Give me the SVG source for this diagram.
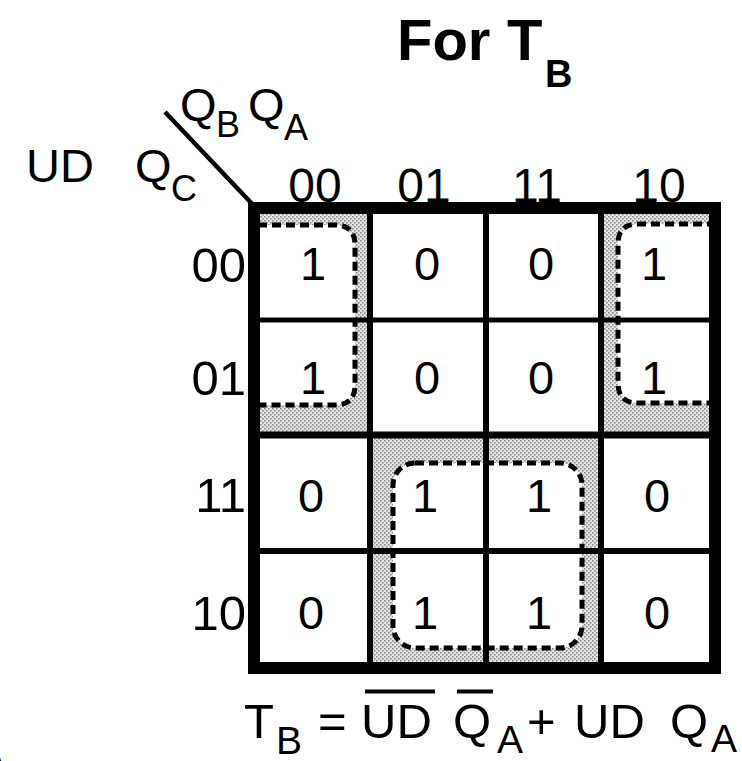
<svg xmlns="http://www.w3.org/2000/svg" width="742" height="761" viewBox="0 0 742 761">
<style>
text{font-family:"Liberation Sans",Arial,sans-serif;fill:#000}
.v{font-size:47px;text-anchor:middle}
.rl{font-size:49px;text-anchor:end}
.cl{font-size:48px;text-anchor:middle}
.eq{font-size:49px}
.sub{font-size:39px}
.hd{font-size:47px}
.hsub{font-size:36px}
.dash{fill:none;stroke:#000;stroke-width:5;stroke-dasharray:9 5}
.inner{fill:#fff}
.shade{fill:url(#stip)}
</style>
<defs>
<pattern id="stip" width="4" height="4" patternUnits="userSpaceOnUse">
<rect width="4" height="4" fill="#e4e4e4"/>
<rect x="0" y="0" width="1.6" height="1.6" fill="#8c8c8c"/>
<rect x="2" y="2" width="1.6" height="1.6" fill="#8c8c8c"/>
</pattern>
</defs>
<rect width="742" height="761" fill="#fff"/>

<g id="title">
<text x="397" y="60" style="font-size:58px;font-weight:bold">For</text>
<text x="507" y="60" style="font-size:58px;font-weight:bold">T</text>
<text x="545" y="87" style="font-size:38px;font-weight:bold">B</text>
</g>

<g id="groups">
<rect class="shade" x="258" y="212" width="112" height="222"/>
<rect class="inner" x="225" y="225" width="130" height="180" rx="20"/>
<path class="dash" d="M258 225 H335 Q355 225 355 245 V385 Q355 405 335 405 H258"/>
<rect class="shade" x="601" y="212" width="115" height="222"/>
<rect class="inner" x="618" y="224" width="130" height="179" rx="20"/>
<path class="dash" d="M716 224 H638 Q618 224 618 244 V383 Q618 403 638 403 H716"/>
<rect class="shade" x="370" y="435" width="231" height="233"/>
<rect class="inner" x="393" y="463" width="189" height="185" rx="22"/>
<rect class="dash" x="393" y="463" width="189" height="185" rx="22"/>
</g>

<g id="header">
<line x1="165" y1="112" x2="256" y2="208" stroke="#000" stroke-width="4.5"/>
<text class="hd" x="180" y="121">Q</text>
<text class="hsub" x="216" y="137">B</text>
<text class="hd" x="248" y="121">Q</text>
<text class="hsub" x="284" y="140">A</text>
<text class="hd" x="26" y="182">UD</text>
<text class="hd" x="135" y="182">Q</text>
<text class="hsub" x="171" y="201">C</text>
<text class="cl" x="315" y="202">00</text>
<text class="cl" x="424" y="202">01</text>
<text class="cl" x="537" y="202">11</text>
<text class="cl" x="659" y="202">10</text>
<text class="rl" x="246" y="282">00</text>
<text class="rl" x="246" y="395">01</text>
<text class="rl" x="246" y="512">11</text>
<text class="rl" x="246" y="630">10</text>
</g>

<g id="grid" stroke="#000" fill="none">
<line x1="370" y1="208" x2="370" y2="668" stroke-width="6"/>
<line x1="486" y1="208" x2="486" y2="668" stroke-width="6"/>
<line x1="601" y1="208" x2="601" y2="668" stroke-width="6"/>
<line x1="254" y1="320" x2="715" y2="320" stroke-width="5"/>
<line x1="254" y1="435" x2="715" y2="435" stroke-width="7"/>
<line x1="254" y1="551" x2="715" y2="551" stroke-width="6"/>
<rect x="254" y="208" width="461" height="460" stroke-width="12"/>
</g>

<g id="cells">
<text class="v" x="313" y="280">1</text>
<text class="v" x="427" y="280">0</text>
<text class="v" x="541" y="280">0</text>
<text class="v" x="654" y="280">1</text>
<text class="v" x="313" y="394">1</text>
<text class="v" x="427" y="394">0</text>
<text class="v" x="541" y="394">0</text>
<text class="v" x="654" y="394">1</text>
<text class="v" x="311" y="512">0</text>
<text class="v" x="425" y="512">1</text>
<text class="v" x="539" y="512">1</text>
<text class="v" x="657" y="512">0</text>
<text class="v" x="311" y="629">0</text>
<text class="v" x="425" y="629">1</text>
<text class="v" x="539" y="629">1</text>
<text class="v" x="657" y="629">0</text>
</g>

<g id="equation">
<text class="eq" x="244" y="738">T</text>
<text class="sub" x="276" y="754">B</text>
<text class="eq" x="318" y="738">=</text>
<text class="eq" x="361" y="738">UD</text>
<line x1="365" y1="691.5" x2="435" y2="691.5" stroke="#000" stroke-width="4"/>
<text class="eq" x="453" y="738">Q</text>
<line x1="457" y1="691.5" x2="493" y2="691.5" stroke="#000" stroke-width="4"/>
<text class="sub" x="497" y="753">A</text>
<text class="eq" x="527" y="738">+</text>
<text class="eq" x="574" y="738">UD</text>
<text class="eq" x="670" y="738">Q</text>
<text class="sub" x="711" y="752">A</text>
<text class="sub" x="-22" y="768">A</text>
</g>
</svg>
